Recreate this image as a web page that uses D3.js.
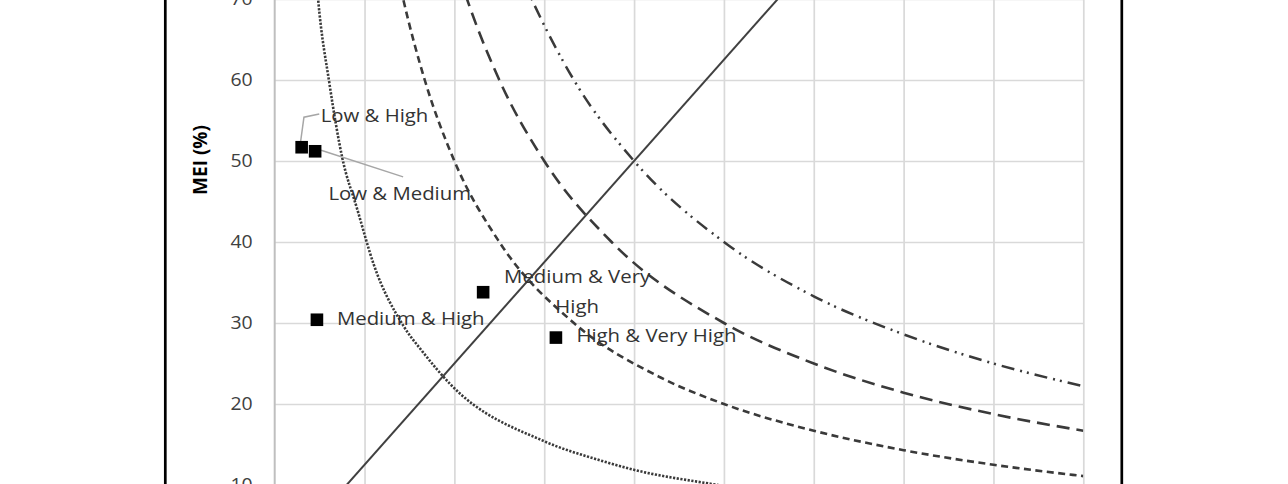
<!DOCTYPE html>
<html>
<head>
<meta charset="utf-8">
<script src="https://cdn.jsdelivr.net/npm/d3@7"></script>
<style>
  html, body { margin: 0; padding: 0; background: #ffffff; overflow: hidden; }
  svg { display: block; }
</style>
</head>
<body>
<svg id="chart" width="1288" height="484"></svg>
<script>
// ---------------- data ----------------
const categories = ["Low & High", "Low & Medium", "Medium & High", "Medium & Very High", "High & Very High"];
const pointX = [3.0, 4.5, 4.7, 23.2, 31.3];
const pointY = [51.7, 51.2, 30.4, 33.8, 28.2];

const yTicks = [0, 10, 20, 30, 40, 50, 60, 70, 80];
const xGrid = [10, 20, 30, 40, 50, 60, 70, 80, 90];

// iso-curves
const dottedX = [4.6, 4.83, 6.1, 7.5, 9.2, 11.0, 14.3, 16.5, 19.5, 30.0, 36.2, 39.9, 48.5, 56.0];
const dottedY = [73, 70, 59.5, 50.5, 44, 37.3, 29.7, 26.4, 22.5, 15.4, 13.05, 11.9, 10.15, 8.9];

const shortDashX = [13.5, 14.3, 16.7, 20, 25, 33.3, 42.9, 50, 60, 70, 80, 90];
const shortDashY = [74, 70, 60, 50, 40, 30, 23.3, 20, 16.7, 14.3, 12.5, 11.1];

const longDashX = [20.5, 21.4, 25, 30, 37.5, 50, 60, 70, 80, 90];
const longDashY = [73, 70, 60, 50, 40, 30, 25, 21.4, 18.75, 16.7];

const dashDotX = [27.4, 28.6, 33.3, 40, 50, 60, 70, 80, 90];
const dashDotY = [73, 70, 60, 50, 40, 33.3, 28.6, 25, 22.2];

const diagX = [0, 64];
const diagY = [0, 80];

// ---------------- layout ----------------
const svg = d3.select("#chart");
const x = d3.scaleLinear().domain([0, 90]).range([274.7, 1083.3]);
const y = d3.scaleLinear().domain([10, 60]).range([485, 80]);
const yTop = y(80), yBot = y(0);

// outer frame
svg.append("rect")
  .attr("x", 165.3).attr("y", -20).attr("width", 1121.8 - 165.3).attr("height", 540)
  .attr("fill", "#ffffff").attr("stroke", "#000000").attr("stroke-width", 2.7);

svg.append("defs").append("clipPath").attr("id", "plotclip")
  .append("rect").attr("x", x(0)).attr("y", yTop).attr("width", x(90) - x(0)).attr("height", yBot - yTop);

// horizontal gridlines + tick labels
const yAxis = d3.axisLeft(y).tickValues(yTicks).tickSize(-(x(90) - x(0))).tickPadding(22)
  .tickFormat(d3.format("d"));
const gy = svg.append("g").attr("transform", `translate(${x(0)},0)`).call(yAxis);
gy.select(".domain").remove();
gy.selectAll(".tick line").attr("stroke", "#d9d9d9").attr("stroke-width", 1.7);
gy.selectAll(".tick text")
  .attr("font-family", "'Open Sans', sans-serif").attr("font-size", 18).attr("fill", "#404040")
  .attr("dy", "0.32em")
  .each(function() {
    const t = d3.select(this);
    const tx = +t.attr("x");
    t.attr("x", null).attr("transform", `translate(${tx},0) scale(1.08,1)`);
  });

// vertical gridlines
const xAxis = d3.axisBottom(x).tickValues(xGrid).tickSize(-(yBot - yTop)).tickFormat("");
const gx = svg.append("g").attr("transform", `translate(0,${yBot})`).call(xAxis);
gx.select(".domain").remove();
gx.selectAll(".tick line").attr("stroke", "#d9d9d9").attr("stroke-width", 1.7);

// y axis line
svg.append("line").attr("x1", x(0)).attr("x2", x(0)).attr("y1", yTop).attr("y2", yBot)
  .attr("stroke", "#bfbfbf").attr("stroke-width", 2);

// y axis title
svg.append("text")
  .attr("transform", `translate(207,160) rotate(-90)`)
  .attr("text-anchor", "middle")
  .attr("font-family", "'Open Sans', sans-serif").attr("font-weight", "bold")
  .attr("font-size", 19).attr("fill", "#000000")
  .text("MEI (%)");

// curves
const plot = svg.append("g").attr("clip-path", "url(#plotclip)");
const zip = (xs, ys) => xs.map((v, i) => [v, ys[i]]);
const lineGen = d3.line().x(d => x(d[0])).y(d => y(d[1])).curve(d3.curveMonotoneX);

const curves = [
  { pts: zip(dottedX, dottedY), dash: "2.2,1.5", w: 2.6 },
  { pts: zip(shortDashX, shortDashY), dash: "7,4.5", w: 2.6 },
  { pts: zip(longDashX, longDashY), dash: "13,7", w: 2.6 },
  { pts: zip(dashDotX, dashDotY), dash: "13,6,2,5,2,6", w: 2.5 }
];
curves.forEach(c => {
  plot.append("path").attr("d", lineGen(c.pts))
    .attr("fill", "none").attr("stroke", "#3a3a3a")
    .attr("stroke-width", c.w).attr("stroke-dasharray", c.dash);
});

plot.append("path")
  .attr("d", d3.line().x(d => x(d[0])).y(d => y(d[1]))(zip(diagX, diagY)))
  .attr("fill", "none").attr("stroke", "#404040").attr("stroke-width", 2);

// points
const pts = categories.map((c, i) => ({ c, px: x(pointX[i]), py: y(pointY[i]) }));

// leader lines for the two Low labels
svg.append("polyline")
  .attr("points", [[pts[0].px - 1, pts[0].py - 6], [pts[0].px + 2.3, pts[0].py - 30], [pts[0].px + 17.6, pts[0].py - 33.3]].map(p => p.join(",")).join(" "))
  .attr("fill", "none").attr("stroke", "#a6a6a6").attr("stroke-width", 1.5);
svg.append("line")
  .attr("x1", pts[1].px + 6).attr("y1", pts[1].py - 1)
  .attr("x2", pts[1].px + 88).attr("y2", pts[1].py + 25.6)
  .attr("stroke", "#a6a6a6").attr("stroke-width", 1.5);

svg.append("g").selectAll("rect").data(pts).join("rect")
  .attr("x", d => d.px - 6.3).attr("y", d => d.py - 6.3)
  .attr("width", 12.6).attr("height", 12.6).attr("fill", "#000000");

// data labels
const labelOffsets = [
  { lines: ["Low & High"], dx: 19, dy: [-25], anchor: "start" },
  { lines: ["Low & Medium"], dx: 13.3, dy: [49], anchor: "start" },
  { lines: ["Medium & High"], dx: 20, dy: [5], anchor: "start" },
  { lines: ["Medium & Very", "High"], dx: 94, dy: [-9, 21], anchor: "middle" },
  { lines: ["High & Very High"], dx: 20.5, dy: [4], anchor: "start" }
];
pts.forEach((p, i) => {
  const o = labelOffsets[i];
  o.lines.forEach((ln, j) => {
    svg.append("text")
      .attr("transform", `translate(${p.px + o.dx},${p.py + o.dy[j]}) scale(1.1,1)`)
      .attr("text-anchor", o.anchor)
      .attr("font-family", "'Open Sans', sans-serif").attr("font-size", 18.5)
      .attr("fill", "#333333")
      .text(ln);
  });
});
</script>
</body>
</html>
